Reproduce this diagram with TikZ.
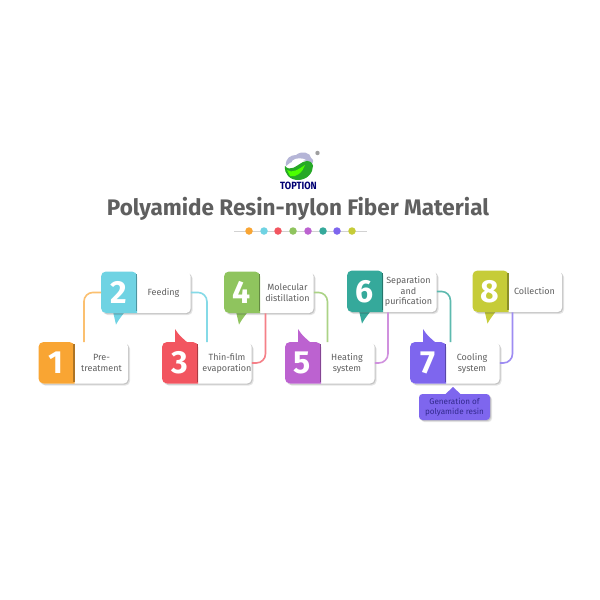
\documentclass[tikz,border=0pt]{standalone}
\usepackage{fontspec}
\setmainfont{Fira Sans}
\usetikzlibrary{shadows,calc}
\definecolor{cA}{HTML}{F9A533}\definecolor{cB}{HTML}{6FD3E3}\definecolor{cC}{HTML}{F25560}\definecolor{cD}{HTML}{8FC45E}
\definecolor{cE}{HTML}{BC62D0}\definecolor{cF}{HTML}{35A99B}\definecolor{cG}{HTML}{7E66EE}\definecolor{cH}{HTML}{C6CC38}
\definecolor{txt}{HTML}{5F5F5F}
\tikzset{
 softshadow/.style={general shadow={fill=black,opacity=.10,shadow xshift=2pt,shadow yshift=-2pt},general shadow={fill=black,opacity=.14,shadow xshift=1pt,shadow yshift=-1pt}},
 cardbox/.style={draw=none,fill=white,rounded corners=5pt,minimum width=89.5pt,minimum height=41.5pt,inner sep=0pt,softshadow},
 numtext/.style={text=white,font=\fontsize{32}{32}\selectfont\bfseries,inner sep=0pt},
 lab/.style={text=txt,font=\fontsize{9}{10.9}\selectfont,align=center,inner sep=0pt},
 conn/.style={line width=1.6pt,rounded corners=9pt},
 dotmark/.style={circle,minimum size=7.5pt,inner sep=0pt},
}
% #1 id, #2 colour, #3 left x, #4 top y, #5 number, #6 label, #7 tail (0 none, 1 below, 2 above), #8 label centre offset
\newcommand{\stepcard}[8]{%
 \ifnum#7=1
  \fill[#2] (#3+12,#4+40) -- (#3+15,#4+53) .. controls (#3+18,#4+48) .. (#3+24,#4+40) -- cycle;
 \fi
 \ifnum#7=2
  \fill[#2] (#3+13,#4+1) -- (#3+13,#4-13) .. controls (#3+17,#4-7) .. (#3+26,#4+1) -- cycle;
 \fi
 \node[cardbox,anchor=north west] (c#1) at (#3,#4) {};
 \fill[#2,rounded corners=5pt] (#3,#4) -- (#3+36,#4) [sharp corners] -- (#3+36,#4+41.5) [rounded corners=5pt] -- (#3,#4+41.5) -- cycle;
 \fill[#2!70!black] (#3+34.7,#4+2) rectangle (#3+36,#4+39.5);
 \node[numtext] (n#1) at (#3+17.5,#4+21) {#5};
 \node[lab] (t#1) at (#3+#8,#4+21) {#6};
}
\begin{document}
\begin{tikzpicture}[x=1pt,y=-1pt]
\useasboundingbox (0,0) rectangle (600,600);
\fill[white] (0,0) rectangle (600,600);
% logo
\fill[blue!30!gray!45!white] (286,166) .. controls (285,158) and (291,155) .. (296,155) .. controls (302,150) and (311,153) .. (311,158) .. controls (316,162) and (312,165) .. (307,162) .. controls (298,158) and (291,161) .. (286,166) -- cycle;
\fill[white] (292,161) .. controls (296,157) and (303,158) .. (306,160) .. controls (300,161) and (296,164) .. (292,166) -- cycle;
\fill[green!60!black!85!white] (285,166) .. controls (290,172) and (296,166) .. (303,162) .. controls (309,159) and (313,163) .. (313,166) .. controls (313,173) and (307,180) .. (298,180) .. controls (290,180) and (284,174) .. (285,166) -- cycle;
\fill[green!70!yellow] (287,170) .. controls (292,174) and (299,169) .. (305,165) .. controls (303,172) and (296,178) .. (290,176) -- cycle;
\fill[gray!75] (317.5,153) circle (2.2);
\node[inner sep=0pt,text=blue!45!black,font=\fontsize{10.5}{11}\selectfont\bfseries,xscale=.88] (logo) at (298.5,185.5) {TOPTION};
% title
\node[inner sep=0pt,text=txt,font=\fontsize{22.5}{25}\selectfont\bfseries] (title) at (298,209) {Polyamide Resin-nylon Fiber Material};
% dot rule
\coordinate (rl) at (234,231);\coordinate (rr) at (367,231);
\draw[gray!35,line width=.6pt] (rl) -- (rr);
\foreach \i/\x/\c in {1/249/cA,2/264/cB,3/278/cC,4/293/cD,5/308/cE,6/323/cF,7/337/cG,8/352/cH}
 \node[dotmark,fill=\c] (d\i) at (\x,231) {};
% cards
\stepcard{2}{cB}{101}{271.5}{2}{Feeding}{1}{62.5}
\stepcard{4}{cD}{224}{271.5}{4}{Molecular\\distillation}{1}{63.5}
\stepcard{6}{cF}{347}{270.5}{6}{Separation\\and\\purification}{1}{61.5}
\stepcard{8}{cH}{472.5}{270.5}{8}{Collection}{1}{62}
\stepcard{1}{cA}{38.5}{342}{1}{Pre-\\treatment}{0}{63}
\stepcard{3}{cC}{162}{342}{3}{Thin-film\\evaporation}{2}{65}
\stepcard{5}{cE}{285}{342}{5}{Heating\\system}{2}{62}
\stepcard{7}{cG}{410}{342}{7}{Cooling\\system}{2}{62}
% connectors
\draw[conn,cA!70!white] ([xshift=.5pt]c1.north) |- (c2.west);
\draw[conn,cB!85!white] (c2.east) -| (c3.north);
\draw[conn,cC!75!white] (c3.east) -| ([xshift=-3.5pt]c4.south);
\draw[conn,cD!75!white] (c4.east) -| ([xshift=-2.5pt]c5.north);
\draw[conn,cE!70!white] (c5.east) -| ([xshift=-4pt]c6.south);
\draw[conn,cF!80!white] (c6.east) -| ([xshift=-4.5pt]c7.north);
\draw[conn,cG!75!white] (c7.east) -| ([xshift=-5pt]c8.south);
% callout
\fill[cG] (445,394.5) -- (453,387) -- (461,394.5) -- cycle;
\node[fill=cG,rounded corners=3.5pt,minimum width=71pt,minimum height=26pt,inner sep=0pt,align=center,text=blue!30!black!60!cG,font=\fontsize{8.1}{10}\selectfont,softshadow] (note) at (454.5,407) {Generation of\\polyamide resin};
\end{tikzpicture}
\end{document}
